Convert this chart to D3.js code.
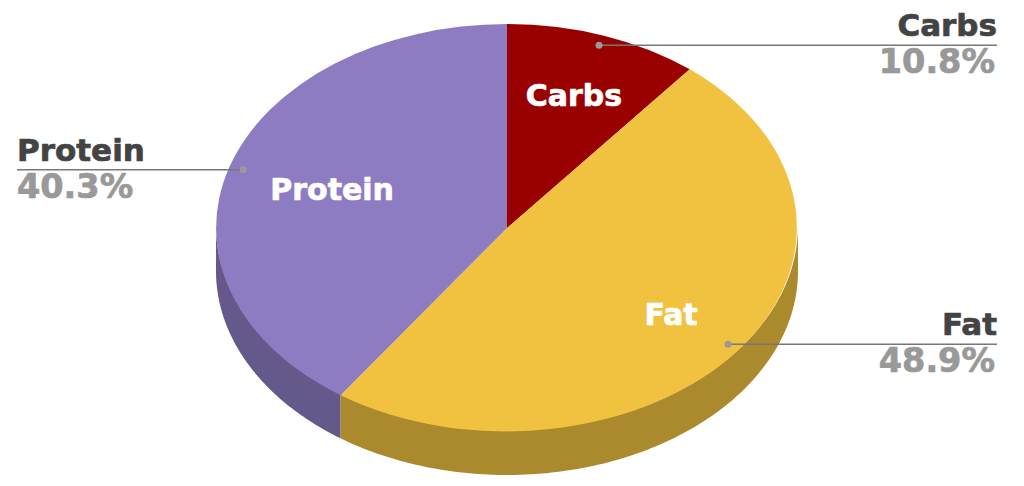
<!DOCTYPE html>
<html><head><meta charset="utf-8">
<script src="https://cdn.jsdelivr.net/npm/d3@7/dist/d3.min.js"></script>
<style>html,body{margin:0;padding:0;background:#fff}svg{display:block}text{font-family:"DejaVu Sans",sans-serif;font-weight:700;stroke-linejoin:round}</style>
</head><body><svg id="c" width="1024" height="486"></svg>
<script>
const categories=["Carbs","Fat","Protein"];
const shares=[10.8,48.9,40.3];
const shareLabels=["10.8%","48.9%","40.3%"];
const topColors=["#990000","#f1c240","#8e7cc3"];
const sideColors=["#720000","#ab8a2e","#65588b"];
const W=1024,H=486,cx=507,cy=228,rx=291,ry=204,depth=43;
const svg=d3.select("#c");
const pieGen=d3.pie().sort(null).value(d=>d);
const arcs=pieGen(shares);
const px=d3.scaleLinear().domain([-1,1]).range([cx-rx,cx+rx]);
const py=d3.scaleLinear().domain([-1,1]).range([cy-ry,cy+ry]);
const pt=(a,r=1)=>[px(r*Math.sin(a)),py(-r*Math.cos(a))];
const line=d3.line();
const lo=Math.PI/2,hi=3*Math.PI/2;
arcs.forEach((d,i)=>{
  const a0=Math.max(d.startAngle,lo),a1=Math.min(d.endAngle,hi);
  if(a1<=a0)return;
  const as=d3.range(0,121).map(k=>a0+(a1-a0)*k/120);
  // upper edge is tucked slightly under the top face so no light seam shows
  const upper=as.map(a=>{const p=pt(a);return[p[0],p[1]-2];});
  const lower=as.slice().reverse().map(a=>{const p=pt(a);return[p[0],p[1]+depth];});
  svg.append("path").attr("d",line(upper.concat(lower))+"Z").attr("fill",sideColors[i]);
});
const arcGen=d3.arc().innerRadius(0).outerRadius(1);
svg.append("g").attr("transform",`translate(${cx},${cy}) scale(${rx},${ry})`)
  .selectAll("path").data(arcs).join("path").attr("d",arcGen).attr("fill",(d,i)=>topColors[i]);
const mid=d=>(d.startAngle+d.endAngle)/2;
const innerR=[.69,.705,.63];
arcs.forEach((d,i)=>{
  const p=pt(mid(d),innerR[i]);
  svg.append("text").attr("x",p[0]).attr("y",p[1]).attr("dy","0.35em").attr("text-anchor","middle")
    .attr("font-size",30).attr("fill","#fff").attr("stroke","#fff").attr("stroke-width",.7).text(categories[i]);
});
const side=[1,1,-1];
arcs.forEach((d,i)=>{
  const p=pt(mid(d),.95);
  const x2=side[i]>0?997:17;
  svg.append("line").attr("x1",p[0]).attr("y1",p[1]).attr("x2",x2).attr("y2",p[1]).attr("stroke","#777").attr("stroke-width",1.5);
  svg.append("circle").attr("cx",p[0]).attr("cy",p[1]).attr("r",3.5).attr("fill","#999");
  const anchor=side[i]>0?"end":"start";
  svg.append("text").attr("x",x2).attr("y",p[1]-9).attr("text-anchor",anchor).attr("font-size",31).attr("fill","#434343").attr("stroke","#434343").attr("stroke-width",.7).text(categories[i]);
  svg.append("text").attr("x",side[i]>0?x2-2:x2).attr("y",p[1]+28).attr("text-anchor",anchor).attr("font-size",33.5).attr("fill","#999").attr("stroke","#999").attr("stroke-width",.7).text(shareLabels[i]);
});
</script></body></html>
